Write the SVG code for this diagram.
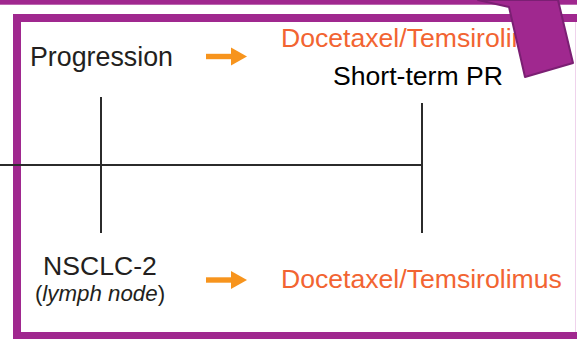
<svg xmlns="http://www.w3.org/2000/svg" width="577" height="339" viewBox="0 0 577 339">
  <style>
    .lbl { font-family: "Liberation Sans", Arial, sans-serif; font-size: 26.6px; }
    .dark { fill: #231f20; }
    .drug { fill: #f26432; }
    .note { fill: #000; }
    .tick { stroke: #2b2b2b; stroke-width: 2; fill: none; }
    .frame { fill: none; stroke: #a0288f; stroke-width: 8; }
  </style>
  <defs>
    <g id="orange-arrow">
      <rect x="0" y="-2.7" width="27" height="5.4" fill="#f7941d"/>
      <polygon points="25,-9 41,0 25,9" fill="#f7941d"/>
    </g>
  </defs>

  <rect width="577" height="339" fill="#fff"/>

  <!-- top strip and outer frame -->
  <rect x="0" y="0" width="577" height="4.7" fill="#a0288f"/>
  <rect class="frame" x="17" y="18" width="580" height="318"/>
  <line x1="575.5" y1="22" x2="575.5" y2="332" stroke="#efd3ec" stroke-width="1"/>

  <!-- timeline -->
  <g id="connectors">
    <line class="tick" x1="0" y1="165" x2="422" y2="165"/>
    <line class="tick" x1="101" y1="97" x2="101" y2="233"/>
    <line class="tick" x1="422" y1="103" x2="422" y2="233"/>
    <use href="#orange-arrow" x="206" y="56.5"/>
    <use href="#orange-arrow" x="206" y="280"/>
  </g>

  <g id="progression">
    <text class="lbl dark" x="30" y="66" style="font-size:26.8px">Progression</text>
  </g>
  <g id="drug-top">
    <text class="lbl drug" x="281" y="47">Docetaxel/Temsirolimus</text>
  </g>
  <g id="short-term-pr">
    <text class="lbl note" x="418" y="85" text-anchor="middle">Short-term PR</text>
  </g>
  <g id="nsclc-2">
    <text class="lbl dark" x="100" y="275" text-anchor="middle">NSCLC-2</text>
    <text class="lbl dark" x="100" y="300.5" text-anchor="middle" style="font-size:22.3px">(<tspan font-style="italic">lymph node</tspan>)</text>
  </g>
  <g id="drug-bottom">
    <text class="lbl drug" x="281" y="288">Docetaxel/Temsirolimus</text>
  </g>

  <!-- callout shape in the corner -->
  <g id="callout">
    <path d="M 478 0 L 558 0 L 573 63 L 525 77 L 509 7 Z" fill="#a0288f" stroke="#7b1f73" stroke-width="2" stroke-linejoin="round"/>
  </g>
</svg>
